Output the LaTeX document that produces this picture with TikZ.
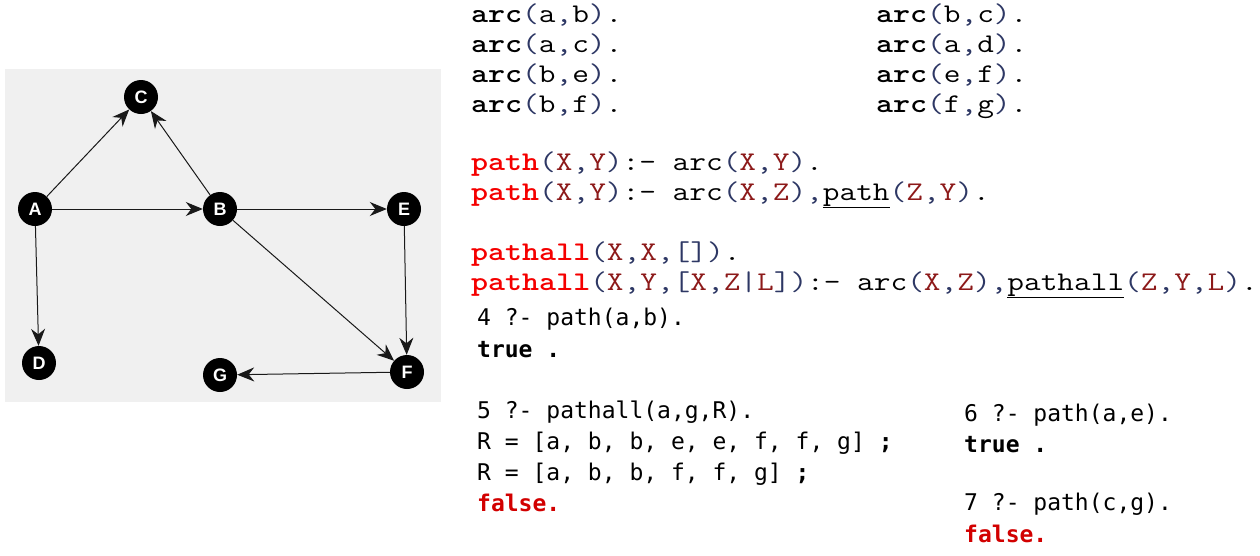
\documentclass[tikz,border=0pt]{standalone}
\usepackage{fontspec}
\usepackage{graphicx}
\usetikzlibrary{arrows.meta}
\newfontfamily\labelfont{Liberation Sans}
\newfontfamily\queryfont{DejaVu Sans Mono}
\definecolor{keyred}{RGB}{245,0,0}
\definecolor{varred}{RGB}{140,25,25}
\definecolor{punct}{RGB}{45,55,100}
\definecolor{falsered}{RGB}{210,0,0}
\newcommand\kwb[1]{\textbf{#1}}
\newcommand\kwr[1]{\textbf{\color{keyred}#1}}
\newcommand\vr[1]{\textcolor{varred}{#1}}
\newcommand\pu[1]{\textcolor{punct}{#1}}
\newcommand\codetext[1]{\scalebox{1.2}[1]{\fontsize{27}{30}\selectfont\ttfamily #1}}
\begin{document}
\begin{tikzpicture}[x=1pt, y=-1pt,
    vertex/.style={circle, fill=black, text=white, minimum size=34pt, inner sep=0pt,
      font=\labelfont\bfseries\fontsize{18}{18}\selectfont},
    edge/.style={draw=black!90, line width=1pt, -{Stealth[length=17pt,width=14pt]}},
    code/.style={anchor=base west, inner sep=0pt},
    query/.style={anchor=base west, inner sep=0pt, font=\queryfont\fontsize{23}{28}\selectfont}]
  \useasboundingbox (0,0) rectangle (1260,555);
  % graph
  \fill[gray!12] (5,69) rectangle (441,402);
  \node[vertex] (C) at (141,97) {C};
  \node[vertex] (A) at (35,209) {A};
  \node[vertex] (B) at (220,209) {B};
  \node[vertex] (E) at (404,209) {E};
  \node[vertex] (D) at (39,363) {D};
  \node[vertex] (G) at (220,375) {G};
  \node[vertex] (F) at (407,372) {F};
  \draw[edge] (A) -- (C);
  \draw[edge] (A) -- (B);
  \draw[edge] (A) -- (D);
  \draw[edge] (B) -- (C);
  \draw[edge] (B) -- (E);
  \draw[edge] (B) -- (F);
  \draw[edge] (E) -- (F);
  \draw[edge] (F) -- (G);
  % facts
  \node[code] (arcab) at (471,22) {\codetext{\kwb{arc}\pu{(}a\pu{,}b\pu{)}.}};
  \node[code] (arcac) at (471,52) {\codetext{\kwb{arc}\pu{(}a\pu{,}c\pu{)}.}};
  \node[code] (arcbe) at (471,82) {\codetext{\kwb{arc}\pu{(}b\pu{,}e\pu{)}.}};
  \node[code] (arcbf) at (471,112) {\codetext{\kwb{arc}\pu{(}b\pu{,}f\pu{)}.}};
  \node[code] (arcbc) at (876,22) {\codetext{\kwb{arc}\pu{(}b\pu{,}c\pu{)}.}};
  \node[code] (arcad) at (876,52) {\codetext{\kwb{arc}\pu{(}a\pu{,}d\pu{)}.}};
  \node[code] (arcef) at (876,82) {\codetext{\kwb{arc}\pu{(}e\pu{,}f\pu{)}.}};
  \node[code] (arcfg) at (876,112) {\codetext{\kwb{arc}\pu{(}f\pu{,}g\pu{)}.}};
  % rules
  \node[code] (path1) at (471,170) {\codetext{\kwr{path}\pu{(}\vr{X}\pu{,}\vr{Y}\pu{)}:- arc\pu{(}\vr{X}\pu{,}\vr{Y}\pu{)}.}};
  \node[code] (path2) at (471,200) {\codetext{\kwr{path}\pu{(}\vr{X}\pu{,}\vr{Y}\pu{)}:- arc\pu{(}\vr{X}\pu{,}\vr{Z}\pu{)}\pu{,}\underline{path}\pu{(}\vr{Z}\pu{,}\vr{Y}\pu{)}.}};
  \node[code] (pathall1) at (471,260) {\codetext{\kwr{pathall}\pu{(}\vr{X}\pu{,}\vr{X}\pu{,}\pu{[]}\pu{)}.}};
  \node[code] (pathall2) at (471,290) {\codetext{\kwr{pathall}\pu{(}\vr{X}\pu{,}\vr{Y}\pu{,[}\vr{X}\pu{,}\vr{Z}\pu{|}\vr{L}\pu{])}:- arc\pu{(}\vr{X}\pu{,}\vr{Z}\pu{)}\pu{,}\underline{pathall}\pu{(}\vr{Z}\pu{,}\vr{Y}\pu{,}\vr{L}\pu{)}.}};
  % queries
  \node[query] (q4) at (477,325) {4 ?- path(a,b).};
  \node[query] (a4) at (477,357) {\bfseries true .};
  \node[query] (q5) at (477,418) {5 ?- pathall(a,g,R).};
  \node[query] (a5a) at (477,449) {R = [a, b, b, e, e, f, f, g] \textbf{;}};
  \node[query] (a5b) at (477,480) {R = [a, b, b, f, f, g] \textbf{;}};
  \node[query, text=falsered] (a5c) at (477,511) {\bfseries false.};
  \node[query] (q6) at (964,421) {6 ?- path(a,e).};
  \node[query] (a6) at (964,452) {\bfseries true .};
  \node[query] (q7) at (964,510) {7 ?- path(c,g).};
  \node[query, text=falsered] (a7) at (964,542) {\bfseries false.};
\end{tikzpicture}
\end{document}
